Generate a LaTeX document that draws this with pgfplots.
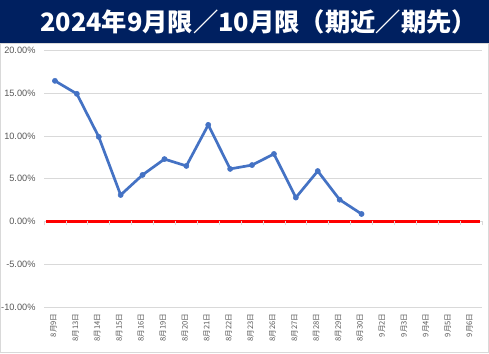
\documentclass[border=0pt]{standalone}
\usepackage{pgfplots}
\pgfplotsset{compat=1.18}
\usepackage{fontspec}
\setmainfont{Liberation Sans}
\newfontfamily\cjk{Noto Sans CJK JP}
\definecolor{navy}{HTML}{002060}
\definecolor{lblue}{HTML}{4472C4}
\definecolor{lbl}{HTML}{595959}
\definecolor{grd}{HTML}{D9D9D9}
\begin{document}
\begin{tikzpicture}
\useasboundingbox (0,0) rectangle (489pt,353pt);
\fill[white] (0,0) rectangle (489pt,353pt);
\fill[navy] (0,310pt) rectangle (489pt,353pt);
\draw[grd, line width=0.8pt] (0.4pt,0.4pt) rectangle (488.2pt,310pt);
\node[text=white, font=\cjk\bfseries\fontsize{25.3}{27}\selectfont, anchor=west, inner sep=0pt] at (40pt,331pt) {2024年9月限／10月限（期近／期先）};
\begin{axis}[
  at={(44pt,46pt)}, anchor=south west,
  scale only axis, width=438pt, height=256.5pt,
  xmin=-0.5, xmax=19.5, ymin=-10, ymax=20,
  axis line style={draw=none},
  ytick={-10,-5,0,5,10,15,20},
  ymajorgrids, grid style={grd, line width=0.8pt},
  major tick length=0pt,
  /pgf/number format/assume math mode=true,
  yticklabel={\pgfmathprintnumber[fixed,fixed zerofill,precision=2]{\tick}\%},
  yticklabel style={text=lbl, font=\fontsize{9.2}{10}\selectfont, xshift=-5pt},
  xtick={0,...,19},
  xticklabels={8月9日,8月13日,8月14日,8月15日,8月16日,8月19日,8月20日,8月21日,8月22日,8月23日,8月26日,8月27日,8月28日,8月29日,8月30日,9月2日,9月3日,9月4日,9月5日,9月6日},
  xticklabel style={rotate=90, anchor=east, text=lbl, font=\cjk\fontsize{7.6}{8}\selectfont, xshift=-3pt, yshift=1.5pt},
  clip=false,
]
\addplot[red, line width=2.8pt] coordinates {(-0.42,0) (19.42,0)};
\addplot[lblue, line width=2.7pt, mark=*, mark size=2.6pt, mark options={fill=lblue, draw=lblue, line width=0.5pt}] coordinates {
(0,16.45) (1,14.93) (2,9.9) (3,3.1) (4,5.45) (5,7.3) (6,6.5) (7,11.3) (8,6.15) (9,6.6) (10,7.9) (11,2.8) (12,5.9) (13,2.55) (14,0.88)};
\end{axis}
\begin{axis}[
  at={(44pt,46pt)}, anchor=south west,
  scale only axis, width=438pt, height=256.5pt,
  xmin=-0.5, xmax=19.5, ymin=-10, ymax=20,
  axis x line=middle, axis y line=none,
  x axis line style={draw=none, -},
  xtick={-0.5,0.5,...,19.5}, xticklabels={},
  major tick length=4pt, tick align=outside,
  xtick style={grd, line width=0.8pt},
]
\addplot[draw=none] coordinates {(0,0)};
\end{axis}
\end{tikzpicture}
\end{document}
